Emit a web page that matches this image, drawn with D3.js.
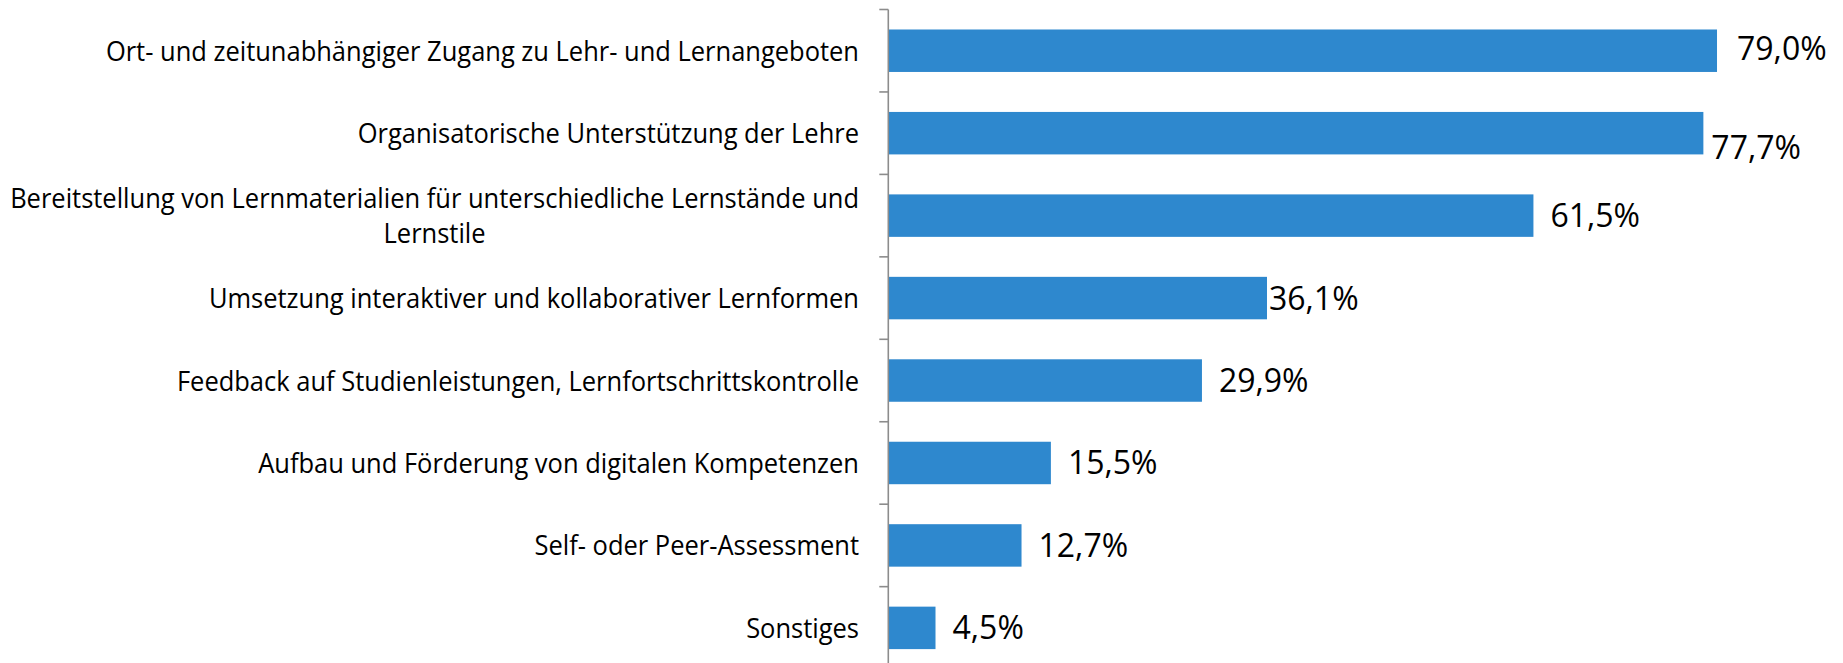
<!DOCTYPE html>
<html>
<head>
<meta charset="utf-8">
<script src="https://cdn.jsdelivr.net/npm/d3@7/dist/d3.min.js"></script>
<style>
  html, body { margin: 0; padding: 0; background: #ffffff; }
  svg { display: block; }
</style>
</head>
<body>
<svg id="chart" width="1843" height="663"></svg>
<script>
const categories = [
  "Ort- und zeitunabhängiger Zugang zu Lehr- und Lernangeboten",
  "Organisatorische Unterstützung der Lehre",
  "Bereitstellung von Lernmaterialien für unterschiedliche Lernstände und Lernstile",
  "Umsetzung interaktiver und kollaborativer Lernformen",
  "Feedback auf Studienleistungen, Lernfortschrittskontrolle",
  "Aufbau und Förderung von digitalen Kompetenzen",
  "Self- oder Peer-Assessment",
  "Sonstiges"
];
const values = [79.0, 77.7, 61.5, 36.1, 29.9, 15.5, 12.7, 4.5];
const valueLabels = ["79,0%", "77,7%", "61,5%", "36,1%", "29,9%", "15,5%", "12,7%", "4,5%"];

const svg = d3.select("#chart");
const axisX = 888.3;
const top0 = 9.5, step = 82.45;

const x = d3.scaleLinear().domain([0, 80]).range([axisX, axisX + 80 * 10.49]);
const y = d3.scaleBand()
  .domain(categories)
  .range([top0, top0 + step * categories.length])
  .paddingInner(0.485)
  .paddingOuter(0.2425);

// bars
svg.append("g").selectAll("rect")
  .data(categories)
  .join("rect")
  .attr("x", axisX)
  .attr("y", d => y(d))
  .attr("width", (d, i) => x(values[i]) - axisX)
  .attr("height", y.bandwidth())
  .attr("fill", "#2E88CE");

// axis line and ticks (between categories)
const axisG = svg.append("g");
const boundaries = d3.range(categories.length + 1).map(i => y.range()[0] + i * y.step());
axisG.append("line")
  .attr("x1", axisX).attr("x2", axisX)
  .attr("y1", boundaries[0]).attr("y2", boundaries[boundaries.length - 1])
  .attr("stroke", "#8C8C8C").attr("stroke-width", 1.6);
axisG.selectAll("line.tick")
  .data(boundaries)
  .join("line")
  .attr("class", "tick")
  .attr("x1", axisX - 9).attr("x2", axisX)
  .attr("y1", d => d).attr("y2", d => d)
  .attr("stroke", "#8C8C8C").attr("stroke-width", 1.6);

// category labels (wrapped, block right aligned, lines centred in block)
const catFont = "Open Sans";
const catSize = 28;
const squeeze = 0.91;
const labelRight = 859;
const maxWidth = 870;
const lineH = 35;
const labG = svg.append("g")
  .attr("font-family", catFont)
  .attr("font-size", catSize)
  .attr("fill", "#000");

const measurer = labG.append("text").attr("visibility", "hidden");
function width(s) { measurer.text(s); return measurer.node().getComputedTextLength() * squeeze; }

categories.forEach((c, i) => {
  const words = c.split(" ");
  const lines = [];
  let cur = "";
  words.forEach(w => {
    const trial = cur ? cur + " " + w : w;
    if (width(trial) > maxWidth && cur) { lines.push(cur); cur = w; }
    else cur = trial;
  });
  lines.push(cur);
  const blockW = d3.max(lines, width);
  const cx = labelRight - blockW / 2;
  const cy = y(c) + y.bandwidth() / 2;
  const firstBase = cy + 10 - (lines.length - 1) * lineH / 2;
  lines.forEach((ln, k) => {
    const w = width(ln);
    labG.append("text")
      .attr("x", cx)
      .attr("y", firstBase + k * lineH)
      .attr("text-anchor", "middle")
      .attr("textLength", w)
      .attr("lengthAdjust", "spacingAndGlyphs")
      .text(ln);
  });
});
measurer.remove();

// value labels
const labelShift = {
  "79,0%": [20, -2],
  "77,7%": [8, 14],
  "36,1%": [2, 0]
};
svg.append("g")
  .attr("font-family", "Open Sans")
  .attr("font-size", 32)
  .attr("fill", "#000")
  .selectAll("text")
  .data(categories)
  .join("text")
  .attr("x", (d, i) => x(values[i]) + (labelShift[valueLabels[i]] || [17, 0])[0])
  .attr("y", (d, i) => y(d) + y.bandwidth() / 2 + 11.5 + (labelShift[valueLabels[i]] || [17, 0])[1])
  .text((d, i) => valueLabels[i]);
</script>
</body>
</html>
